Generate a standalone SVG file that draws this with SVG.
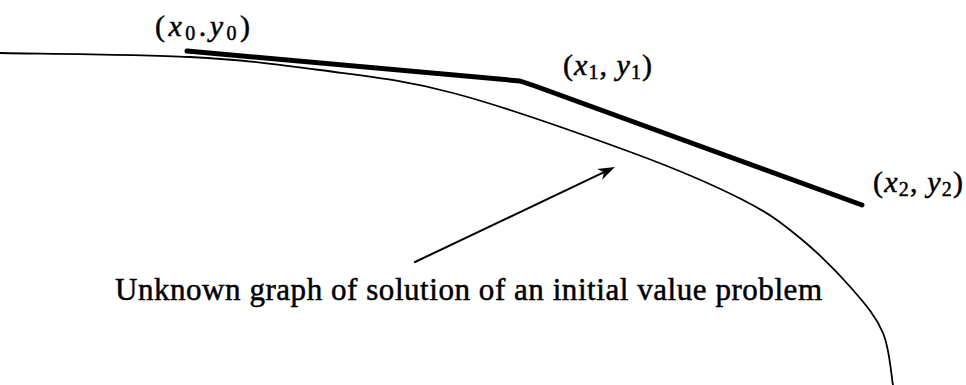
<svg xmlns="http://www.w3.org/2000/svg" width="966" height="385" viewBox="0 0 966 385">
<style>
.bg{fill:#ffffff}
.curve{fill:none;stroke:#000;stroke-width:1.8;stroke-linecap:round;stroke-linejoin:round}
.euler{fill:none;stroke:#000;stroke-width:5;stroke-linecap:round;stroke-linejoin:round}
.arrow{fill:none;stroke:#000;stroke-width:2;stroke-linecap:round}
.lbl{font-family:"Liberation Serif","Times New Roman",serif;font-size:30px;fill:#000;stroke:#000;stroke-width:0.5}
.cap{font-size:31px}
.it{font-style:italic}
.sub{font-size:20px}
</style>
<defs>
<marker id="head" markerUnits="userSpaceOnUse" viewBox="-6 -7 19 14" markerWidth="19" markerHeight="14" refX="0" refY="0" orient="auto">
<path d="M12,0 L-5,-6 L0,0 L-5,6 Z" fill="#000"/>
</marker>
</defs>
<rect class="bg" x="0" y="0" width="966" height="385"/>
<g id="solution-curve">
<path class="curve" d="M0,53 C31.7,53.7 136.7,54.2 190,57 C243.3,59.8 276.2,64 320,70 C363.8,76 400.8,79.2 453,93 C505.2,106.8 584.7,135.2 633,153 C681.3,170.8 715.2,185.8 743,200 C770.8,214.2 781.7,223 800,238 C818.3,253 839.2,274.2 853,290 C866.8,305.8 876.3,317.2 883,333 C889.7,348.8 891.3,376.3 893,385"/>
</g>
<g id="euler-polygon">
<polyline class="euler" points="187,51 520,81 535,86 862,205"/>
</g>
<g id="p0">
<text class="lbl" x="155" y="36" textLength="95" lengthAdjust="spacing">(<tspan class="it">x</tspan><tspan class="sub" dy="4">0</tspan><tspan dy="-4">.</tspan><tspan class="it">y</tspan><tspan class="sub" dy="4">0</tspan><tspan dy="-4">)</tspan></text>
</g>
<g id="p1">
<text class="lbl" x="563" y="75" textLength="89" lengthAdjust="spacing">(<tspan class="it">x</tspan><tspan class="sub" dy="4">1</tspan><tspan dy="-4">, </tspan><tspan class="it">y</tspan><tspan class="sub" dy="4">1</tspan><tspan dy="-4">)</tspan></text>
</g>
<g id="p2">
<text class="lbl" x="873" y="192" textLength="90" lengthAdjust="spacing">(<tspan class="it">x</tspan><tspan class="sub" dy="4">2</tspan><tspan dy="-4">, </tspan><tspan class="it">y</tspan><tspan class="sub" dy="4">2</tspan><tspan dy="-4">)</tspan></text>
</g>
<g id="caption">
<text class="lbl cap" x="115" y="300" textLength="707" lengthAdjust="spacing">Unknown graph of solution of an initial value problem</text>
</g>
<g id="connectors">
<line class="arrow" x1="415" y1="262" x2="604.1" y2="172.2" marker-end="url(#head)"/>
</g>
</svg>
